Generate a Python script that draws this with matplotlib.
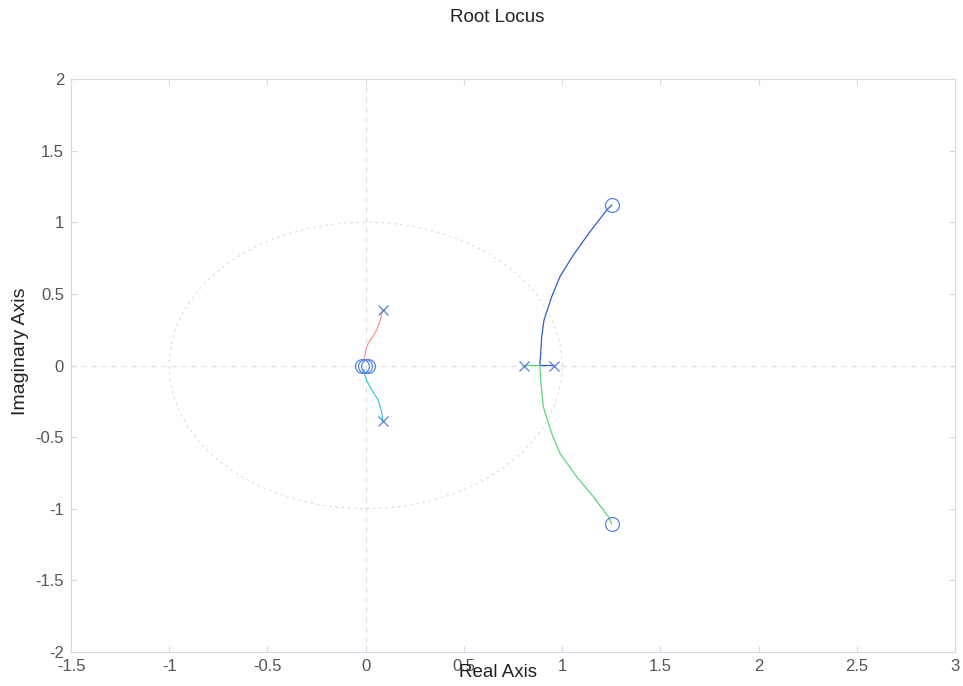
import numpy as np
import matplotlib
matplotlib.use("Agg")
import matplotlib.pyplot as plt

plt.rcParams["font.family"] = ["Liberation Sans", "DejaVu Sans"]

# ------------------------------------------------------------------
# 데이터
# ------------------------------------------------------------------
pole_re = [0.087, 0.087, 0.808, 0.957]
pole_im = [0.39, -0.385, 0.0, 0.0]

zero_re = [-0.02, -0.005, 0.01, 1.252, 1.252]
zero_im = [0.0, 0.0, 0.0, 1.12, -1.105]

# 가지들 (pole -> zero)
red_re = [0.087, 0.075, 0.056, 0.035, 0.013, 0.002, -0.004, -0.009]
red_im = [0.390, 0.320, 0.248, 0.200, 0.155, 0.115, 0.073, 0.027]

cyan_re = [0.087, 0.081, 0.064, 0.042, 0.022, 0.005, -0.004, -0.009]
cyan_im = [-0.385, -0.323, -0.241, -0.195, -0.148, -0.105, -0.066, -0.027]

blue_re = [0.957, 0.887, 0.887, 0.891, 0.896, 0.908, 0.947, 0.989, 1.057, 1.142, 1.227, 1.252]
blue_im = [0.0, 0.0, 0.008, 0.085, 0.201, 0.318, 0.480, 0.620, 0.771, 0.934, 1.085, 1.120]

green_re = [0.808, 0.887, 0.887, 0.891, 0.904, 0.947, 0.989, 1.074, 1.159, 1.235, 1.252]
green_im = [0.0, 0.0, -0.008, -0.101, -0.288, -0.473, -0.613, -0.776, -0.916, -1.055, -1.105]

x_ticks = [-1.5, -1, -0.5, 0, 0.5, 1, 1.5, 2, 2.5, 3]
y_ticks = [-2, -1.5, -1, -0.5, 0, 0.5, 1, 1.5, 2]

# ------------------------------------------------------------------
fig = plt.figure(figsize=(9.63, 6.86), dpi=100)
ax = fig.add_axes([71 / 963, 1 - 652 / 686, (955 - 71) / 963, (652 - 79) / 686])

axis_col = "#d6dae4"
grid_col = "#dcdfe6"

# 단위원 + 축 점선
t = np.linspace(0, 2 * np.pi, 400)
ax.plot(np.cos(t), np.sin(t), linestyle=(0, (2, 3)), color=grid_col, lw=0.9, zorder=1)
ax.axhline(0, linestyle=(0, (4, 4)), color=grid_col, lw=0.9, zorder=1)
ax.axvline(0, linestyle=(0, (4, 4)), color=grid_col, lw=0.9, zorder=1)

ax.plot(red_re, red_im, color="#f29a9a", lw=0.9, zorder=2)
ax.plot(cyan_re, cyan_im, color="#3cc8dc", lw=0.9, zorder=2)
ax.plot(blue_re, blue_im, color="#2f5fc4", lw=0.9, zorder=2)
ax.plot(green_re, green_im, color="#5cd67a", lw=0.9, zorder=2)

ax.plot(pole_re, pole_im, linestyle="none", marker="x", ms=6.5, mew=0.9,
        color="#5a7fd6", zorder=3)
ax.plot(zero_re, zero_im, linestyle="none", marker="o", ms=10, mew=0.9,
        mfc="none", mec="#5a86d8", zorder=3)

ax.set_xlim(-1.5, 3)
ax.set_ylim(-2, 2)
ax.set_xticks(x_ticks)
ax.set_yticks(y_ticks)
ax.set_xticklabels([f"{v:g}" for v in x_ticks])
ax.set_yticklabels([f"{v:g}" for v in y_ticks])

for s in ax.spines.values():
    s.set_color(axis_col)
    s.set_linewidth(0.8)
ax.tick_params(direction="in", length=4, color=axis_col, labelsize=12,
               labelcolor="#555555", top=True, right=True, pad=5)

fig.text(497 / 963, 1 - 17 / 686, "Root Locus", fontsize=13.5, color="#222222",
         ha="center", va="center")

ax.set_xlabel("Real Axis", fontsize=13.5, color="#222222")
ax.xaxis.set_label_coords(0.483, -0.021)
ax.set_ylabel("Imaginary Axis", fontsize=14, color="#222222")
ax.yaxis.set_label_coords(-0.0475, 0.524)

plt.savefig("out.png", dpi=100)
plt.close(fig)
